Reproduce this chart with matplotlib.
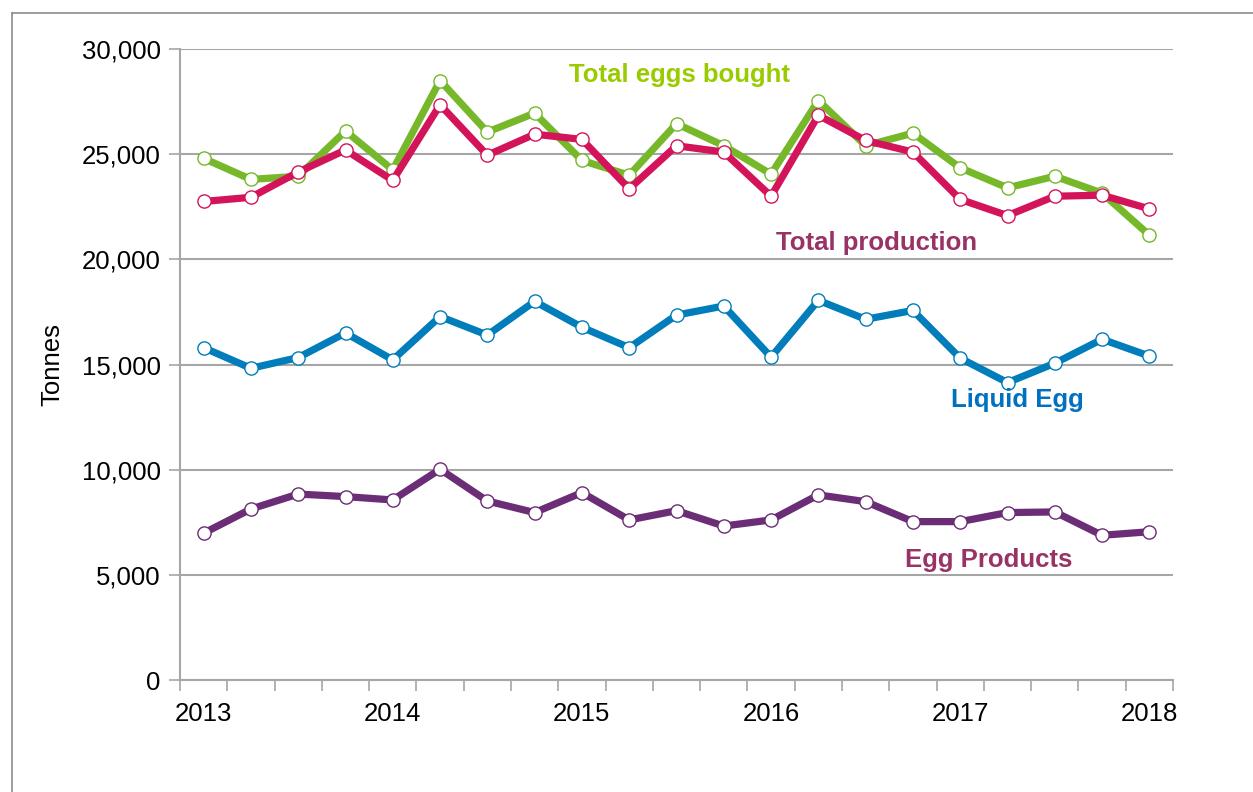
import matplotlib.pyplot as plt
from matplotlib.lines import Line2D
from matplotlib.ticker import FuncFormatter, FixedLocator

plt.rcParams['font.family'] = ['Liberation Sans', 'DejaVu Sans']

# quarterly values, 2013 Q1 .. 2018 Q1 (tonnes)
quarters = list(range(21))
year_labels = ['2013', '2014', '2015', '2016', '2017', '2018']
year_pos = [0, 4, 8, 12, 16, 20]

eggs_bought = [24800, 23800, 23950, 26100, 24250, 28500, 26050, 26950, 24700, 24000,
               26450, 25400, 24050, 27550, 25400, 26000, 24350, 23400, 23950, 23150, 21150]
total_production = [22750, 22950, 24150, 25200, 23750, 27350, 24950, 25950, 25700, 23350,
                    25400, 25100, 23000, 26850, 25650, 25100, 22850, 22080, 23000, 23050, 22400]
liquid_egg = [15800, 14820, 15330, 16500, 15220, 17280, 16400, 18000, 16770, 15800,
              17350, 17780, 15350, 18050, 17150, 17570, 15300, 14140, 15060, 16200, 15400]
egg_products = [6980, 8130, 8840, 8720, 8560, 10020, 8510, 7960, 8910, 7610,
                8050, 7320, 7610, 8800, 8480, 7530, 7530, 7960, 7990, 6880, 7050]

fig = plt.figure(figsize=(12.53, 7.92), dpi=100)
ax = fig.add_axes([180 / 1253, (792 - 680) / 792, 993 / 1253, 631 / 792])

grey = '#a6a6a6'
series = [
    (eggs_bought, '#76b82a'),
    (total_production, '#d4145a'),
    (liquid_egg, '#007dba'),
    (egg_products, '#6b2d75'),
]
for vals, col in series:
    ax.plot(quarters, vals, color=col, lw=5.2, marker='o', ms=9.5,
            mfc='white', mec=col, mew=1, solid_joinstyle='miter', zorder=3)

ax.set_xlim(-0.5, 20.5)
ax.set_ylim(0, 30000)
ax.set_yticks(range(0, 30001, 5000))
ax.yaxis.set_major_formatter(FuncFormatter(lambda v, p: f'{int(v):,}'))
ax.grid(axis='y', color=grey, lw=1.5, zorder=0)
ax.set_axisbelow(True)

ax.xaxis.set_major_locator(FixedLocator(year_pos))
ax.set_xticklabels(year_labels)
ax.xaxis.set_minor_locator(FixedLocator([i - 0.5 for i in range(22)]))
ax.tick_params(axis='x', which='major', length=0, pad=16, labelsize=18.5)
ax.tick_params(axis='x', which='minor', length=8, width=1.2, color=grey, direction='out')
ax.tick_params(axis='y', length=8, width=1.2, color=grey, pad=6, labelsize=18.5)

for s in ['top', 'right']:
    ax.spines[s].set_visible(False)
for s in ['left', 'bottom']:
    ax.spines[s].set_color(grey)
    ax.spines[s].set_linewidth(1.5)

ax.set_ylabel('Tonnes', fontsize=18.5)
ax.yaxis.set_label_coords(-0.116, 0.5)

ax.text(10.07, 28750, 'Total eggs bought', color='#99cc00', fontsize=18.5,
        fontweight='bold', ha='center', va='center')
ax.text(14.24, 20800, 'Total production', color='#993366', fontsize=18.5,
        fontweight='bold', ha='center', va='center')
ax.text(17.2, 13300, 'Liquid Egg', color='#0070c0', fontsize=18.5,
        fontweight='bold', ha='center', va='center')
ax.text(16.6, 5700, 'Egg Products', color='#993366', fontsize=18.5,
        fontweight='bold', ha='center', va='center')

# chart frame (left and top edges)
fig.add_artist(Line2D([12 / 1253, 12 / 1253], [0, 1 - 13 / 792], color='#8c8c8c', lw=1.2))
fig.add_artist(Line2D([12 / 1253, 1], [1 - 13 / 792, 1 - 13 / 792], color='#8c8c8c', lw=1.2))

fig.savefig('out.png', dpi=100, facecolor='white')
